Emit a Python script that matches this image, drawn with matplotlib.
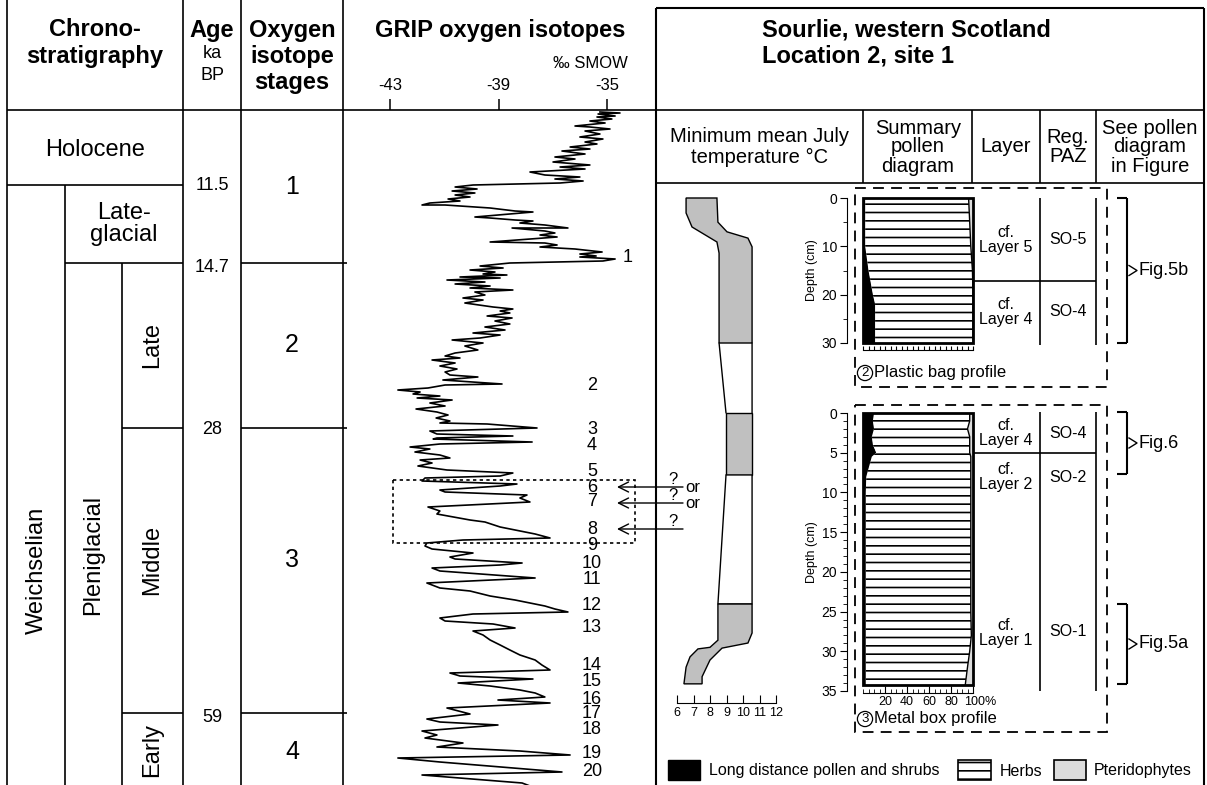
import matplotlib
matplotlib.use("Agg")
import matplotlib.pyplot as plt
from matplotlib.patches import Rectangle, ConnectionPatch
from matplotlib.ticker import MultipleLocator
from matplotlib.transforms import ScaledTranslation

plt.rcParams["font.family"] = ["Liberation Sans", "DejaVu Sans"]
plt.rcParams["hatch.linewidth"] = 1.2

# ---------------- data ----------------
# GRIP d18O (permil SMOW) against depth down the column (0 = top of panel)
grip_depth = [
    # Holocene
    2, 3, 4, 6, 7, 9, 11, 13, 16, 17, 19, 21, 24, 27, 29, 32, 34, 37, 39, 41,
    44, 47, 49, 52, 55, 57, 59, 62, 65, 67, 69, 71, 73, 75,
    # Younger Dryas
    77, 79, 81, 83, 85, 87, 89, 91, 93, 95, 95, 98,
    # Late-glacial interstadial
    101, 102, 104, 107, 108, 110, 111, 113, 115, 118, 118, 121, 123, 125, 127,
    132, 133, 135, 137, 139, 142, 144, 146, 147, 149, 151, 153,
    # stage 2
    156, 158, 160, 162, 164, 165, 167, 168, 170, 172, 174, 176, 178, 180, 182,
    185, 188, 190, 193, 197, 199, 201, 203, 206, 208, 211, 214, 217, 220, 223,
    225, 228, 230, 233, 236, 240, 243, 246, 248, 250, 253, 256, 259, 262, 265,
    267, 270, 274, 275, 278, 280, 282, 284, 286, 288, 290, 293, 296, 299, 302,
    305, 308, 311, 313, 314, 318, 321, 324, 326, 328, 329,
    # stage 3 (upper)
    332, 334, 337, 339, 342, 345, 348, 350, 353, 356, 360, 363, 366, 368, 371,
    374, 376, 380, 382, 385, 388, 392, 397, 401, 404, 410, 412, 417, 421, 424,
    428, 430, 433, 436, 439, 443, 447, 449, 453, 455, 458, 461, 468, 473, 478,
    481, 486, 490, 493, 496, 499, 502,
    # stage 3 (lower) and stage 4
    504, 508, 511, 514, 518, 521, 525, 530, 535, 540, 545, 550, 555, 560, 563,
    566, 569, 573, 576, 580, 583, 587, 590, 593, 598, 604, 609, 612, 615, 621,
    625, 628, 633, 637, 641, 645, 648, 652, 662, 665, 673, 676,
]
grip_d18o = [
    -35.26, -34.52, -35.33, -34.70, -35.37, -34.82, -35.63, -35.07, -36.18, -35.63,
    -34.89, -35.81, -35.26, -36.00, -35.15, -35.81, -35.37, -36.36, -35.63, -36.66,
    -35.81, -36.92, -36.18, -36.99, -35.63, -36.73, -35.81, -37.84, -37.29, -36.00,
    -36.92, -35.88, -36.73, -39.94,
    -40.60, -39.79, -40.71, -39.87, -40.60, -40.05, -40.86, -40.42, -41.53, -41.82,
    -40.97, -39.31,
    -38.39, -37.73, -38.58, -39.87, -39.31, -38.39, -37.73, -38.21, -37.29, -36.44,
    -38.50, -37.29, -36.92, -37.47, -36.84, -39.31, -37.29, -36.84, -37.47, -36.18,
    -35.18, -36.00, -35.40, -36.00, -34.70, -35.15, -38.58,
    -39.68, -38.83, -40.05, -39.13, -39.57, -38.69, -40.42, -38.94, -40.90, -39.50,
    -40.60, -39.31, -40.05, -38.47, -39.87, -39.50, -40.31, -39.57, -40.24, -39.20,
    -38.47, -38.94, -38.58, -39.42, -38.50, -39.13, -38.58, -39.50, -38.76, -39.94,
    -38.94, -39.68, -40.71, -39.57, -40.24, -39.76, -40.60, -40.97, -40.42, -41.45,
    -40.60, -41.16, -40.53, -40.97, -40.79, -39.76, -41.05, -38.87, -40.97, -41.60,
    -42.71, -41.89, -42.15, -41.16, -42.00, -40.71, -41.53, -40.97, -42.04, -41.27,
    -40.86, -41.30, -40.79, -41.16, -39.42, -37.58, -41.53, -41.27, -38.47, -41.27,
    -41.41,
    -37.76, -41.16, -42.26, -41.53, -42.08, -41.16, -40.79, -41.89, -41.45, -41.97,
    -40.90, -38.47, -38.94, -41.71, -41.82, -38.32, -38.94, -41.16, -40.97, -37.95,
    -38.21, -37.84, -41.60, -41.16, -41.27, -40.05, -39.50, -38.94, -38.21, -37.65,
    -37.10, -40.31, -41.64, -41.71, -41.45, -39.94, -40.79, -40.60, -38.13, -38.94,
    -41.45, -41.16, -37.65, -41.64, -41.16, -40.05, -39.31, -38.39, -37.84, -37.29,
    -36.92, -36.44,
    -39.94, -41.16, -40.97, -39.20, -38.39, -39.94, -39.57, -39.31, -38.94, -38.58,
    -38.21, -37.65, -37.40, -37.10, -40.79, -40.42, -37.73, -40.49, -39.31, -38.21,
    -37.65, -37.29, -39.02, -37.10, -40.90, -40.05, -41.64, -41.16, -39.02, -41.82,
    -41.27, -41.71, -40.31, -41.27, -38.21, -36.36, -42.71, -41.16, -36.66, -41.82,
    -38.13, -37.84,
]
grip_ticks = [-43, -39, -35]
is_labels = [str(i) for i in range(1, 21)]
is_rows = [258, 385, 430, 445, 472, 487, 502, 530, 545, 563, 580, 606, 628, 665,
           682, 699, 714, 730, 753, 772]

age_labels = ["11.5", "14.7", "28", "59"]
stage_labels = ["1", "2", "3", "4"]

# minimum mean July temperature (deg C) band, plastic bag profile (cm)
bag_t_low_depth = [0, 3.1, 6.0, 9.1, 11.4, 30]
bag_t_low = [6.55, 6.55, 6.91, 8.42, 8.55, 8.55]
bag_t_high_depth = [0, 5.0, 7.0, 8.3, 10.1, 30]
bag_t_high = [8.42, 8.48, 9.03, 10.30, 10.55, 10.55]
# metal box profile (cm)
box_t_top = [0, 7.8]            # upper reconstructed interval
box_t_top_range = [8.97, 10.55]
box_t_gap_low = [8.97, 8.48]     # no-data interval 7.8-24 cm
box_t_gap_depth = [7.8, 24.05]
box_t_low_depth = [24.05, 28.6, 29.5, 29.7, 30.7, 32.0, 34.1]
box_t_low = [8.48, 8.48, 8.00, 7.27, 6.79, 6.55, 6.42]
box_t_high_depth = [24.05, 27.7, 28.96, 29.6, 31.1, 33.2, 34.1]
box_t_high = [10.55, 10.55, 10.30, 8.73, 8.00, 7.52, 7.52]
temp_ticks = [6, 7, 8, 9, 10, 11, 12]

# summary pollen diagrams (cumulative %)
bag_depth = [0, 5, 10, 15, 20, 22, 25, 30]
bag_shrubs = [2, 2, 2, 5, 9, 11, 11, 11]
bag_herbs = [96, 97, 98, 99.5, 100, 100, 100, 100]
box_depth = [0, 1, 2, 3, 4, 5, 5.5, 6, 7, 8, 10, 15, 20, 25, 28, 30, 32, 34.2]
box_shrubs = [10, 9, 10, 8, 9, 12, 8, 7, 5, 3, 2.5, 2.5, 2.5, 2.5, 2.5, 2.5, 2.5, 2.5]
box_herbs = [97, 97, 95, 97, 97, 97, 98, 98, 98, 98, 98, 98, 98, 98, 98.5, 97, 95, 93]
pct_ticks = [20, 40, 60, 80, 100]

GRAY = "#c0c0c0"
PTER = "#dcdcdc"

# ---------------- figure ----------------
W, H = 1207, 785
fig = plt.figure(figsize=(W / 100, H / 100), dpi=100)
base = fig.add_axes([0, 0, 1, 1])
base.set_xlim(0, W)
base.set_ylim(H, 0)
base.axis("off")


def px_axes(x0, y0, x1, y1):
    a = fig.add_axes([x0 / W, 1 - y1 / H, (x1 - x0) / W, (y1 - y0) / H])
    a.patch.set_visible(False)
    return a


def hl(y, x0, x1, lw=1.2, **kw):
    base.plot([x0, x1], [y, y], color="k", lw=lw, solid_capstyle="butt", **kw)


def vl(x, y0, y1, lw=1.2, **kw):
    base.plot([x, x], [y0, y1], color="k", lw=lw, solid_capstyle="butt", **kw)


def txt(x, y, s, size=14, **kw):
    kw.setdefault("ha", "center")
    kw.setdefault("va", "center")
    base.text(x, y, s, fontsize=size, **kw)


# table frame
for x in [7, 183, 241, 343]:
    vl(x, 0, H)
vl(656, 8, H, lw=1.5)
vl(1204, 8, H, lw=1.5)
hl(110, 7, 1204)
hl(8, 656, 1204, lw=1.5)
hl(183, 656, 1204)
for x in [863, 972, 1040, 1096]:
    vl(x, 110, 183)
hl(185, 7, 183)
vl(65, 185, H)
vl(122, 263, H)
hl(263, 65, 183)
for y in [263, 428, 713]:
    hl(y, 241, 347)
for y in [428, 713]:
    hl(y, 122, 183)

# headers
txt(95, 30, "Chrono-", 17, weight="bold")
txt(95, 56, "stratigraphy", 17, weight="bold")
txt(212, 30, "Age", 17, weight="bold")
txt(212, 54, "ka", 13)
txt(212, 75, "BP", 13)
txt(292, 30, "Oxygen", 17, weight="bold")
txt(292, 56, "isotope", 17, weight="bold")
txt(292, 83, "stages", 17, weight="bold")
txt(500, 30, "GRIP oxygen isotopes", 17, weight="bold")
txt(590, 64, "‰ SMOW", 12)
txt(762, 30, "Sourlie, western Scotland", 17, weight="bold", ha="left")
txt(762, 56, "Location 2, site 1", 17, weight="bold", ha="left")

txt(760, 147, "Minimum mean July\ntemperature °C", 14.5, linespacing=1.15)
txt(918, 147, "Summary\npollen\ndiagram", 14.5, linespacing=1.0)
txt(1006, 147, "Layer", 14.5)
txt(1068, 147, "Reg.\nPAZ", 14.5, linespacing=1.0)
txt(1150, 147, "See pollen\ndiagram\nin Figure", 14.5, linespacing=1.0)

# chronostratigraphy
txt(95, 150, "Holocene", 17)
txt(124, 224, "Late-\nglacial", 17, linespacing=1.05)
txt(37, 570, "Weichselian", 17, rotation=90)
txt(93, 555, "Pleniglacial", 17, rotation=90)
txt(152, 345, "Late", 17, rotation=90)
txt(152, 560, "Middle", 17, rotation=90)
txt(152, 750, "Early", 17, rotation=90)
for s, y in zip(age_labels, [185, 268, 430, 717]):
    txt(212, y, s, 13)
for s, y in zip(stage_labels, [187, 345, 560, 752]):
    txt(292, y, s, 18)

# GRIP curve
g = px_axes(343, 110, 656, 785)
g.set_xlim(-43 - 47 / 27.125, -35 + 49 / 27.125)
g.set_ylim(675, 0)
g.plot(grip_d18o, grip_depth, color="k", lw=1.2)
for s in g.spines.values():
    s.set_visible(False)
g.xaxis.tick_top()
g.set_xticks(grip_ticks)
g.set_xticklabels([str(t) for t in grip_ticks])
g.tick_params(axis="x", direction="out", length=8, width=1.1, labelsize=12, pad=4)
g.set_yticks([])

for s, y in zip(is_labels, is_rows):
    txt(628 if s == "1" else 592, y, s, 13)

base.add_patch(Rectangle((393, 480), 242, 63, fill=False, ec="k", lw=1.2, ls=(0, (2, 2))))
for y in [487, 503, 529]:
    base.annotate("", xy=(617, y), xytext=(683, y),
                  arrowprops=dict(arrowstyle="->", lw=1.0, color="k", mutation_scale=18,
                                  shrinkA=0, shrinkB=0))
txt(673, 479, "?", 12)
txt(685, 487, "or", 12, ha="left")
txt(673, 496, "?", 12)
txt(685, 503, "or", 12, ha="left")
txt(673, 521, "?", 12)

# temperature band
tb = px_axes(677, 198, 776, 343)
tb.set_xlim(6, 12)
tb.set_ylim(30, 0)
tb.axis("off")
tb.fill(bag_t_low + bag_t_high[::-1], bag_t_low_depth + bag_t_high_depth[::-1],
        facecolor=GRAY, edgecolor="k", lw=1.0, clip_on=False)

tx = px_axes(677, 413, 776, 691)
tx.set_xlim(6, 12)
tx.set_ylim(35, 0)
for k in ["left", "right", "top"]:
    tx.spines[k].set_visible(False)
tx.spines["bottom"].set_position(("outward", 8.6))
tx.set_xticks(temp_ticks)
tx.tick_params(axis="x", direction="in", length=6, labelsize=9, pad=3)
tx.set_yticks([])
lo, hi = box_t_top_range
tx.fill([lo, hi, hi, lo], [box_t_top[0], box_t_top[0], box_t_top[1], box_t_top[1]],
        facecolor=GRAY, edgecolor="k", lw=1.0, clip_on=False)
tx.fill(box_t_gap_low + [hi, hi], box_t_gap_depth + box_t_gap_depth[::-1],
        facecolor="white", edgecolor="k", lw=1.0, clip_on=False)
tx.fill(box_t_low + box_t_high[::-1], box_t_low_depth + box_t_high_depth[::-1],
        facecolor=GRAY, edgecolor="k", lw=1.0, clip_on=False)
for xa, xb in [(bag_t_low[-1], box_t_top_range[0]), (bag_t_high[-1], box_t_top_range[1])]:
    fig.add_artist(ConnectionPatch(xyA=(xa, 30), coordsA="data", axesA=tb,
                                   xyB=(xb, 0), coordsB="data", axesB=tx,
                                   color="k", lw=1.0))


# pollen diagrams
def pollen(ax, depth, shrubs, herbs, dmax, bottom):
    ax.set_xlim(0, 100)
    ax.set_ylim(dmax, 0)
    ax.fill_betweenx(depth, 0, shrubs, color="k", lw=0)
    ax.fill_betweenx(depth, shrubs, herbs, facecolor="white", edgecolor="k", hatch="--", lw=0)
    ax.fill_betweenx(depth, herbs, 100, color=PTER, lw=0)
    ax.plot(herbs, depth, color="k", lw=1.0)
    ax.add_patch(Rectangle((0, 0), 100, bottom, fill=False, ec="k", lw=2.0, clip_on=False))
    for k in ["right", "top"]:
        ax.spines[k].set_visible(False)
    ax.spines["left"].set_position(("outward", 11.5))
    ax.set_ylabel("Depth (cm)", fontsize=9, labelpad=3)
    ax.tick_params(axis="y", which="major", direction="out", length=5, labelsize=10, pad=2)
    ax.tick_params(axis="y", which="minor", direction="out", length=3)
    ax.tick_params(axis="x", which="both", direction="in")


pb = px_axes(863, 198, 973, 343)
pollen(pb, bag_depth, bag_shrubs, bag_herbs, 30, 30)
pb.set_yticks([0, 10, 20, 30])
pb.yaxis.set_minor_locator(MultipleLocator(5))
pb.spines["bottom"].set_position(("outward", 5))
pb.set_xticks(range(0, 101, 5))
pb.set_xticklabels([])
pb.tick_params(axis="x", length=3)

pbx = px_axes(863, 413, 973, 691)
pollen(pbx, box_depth, box_shrubs, box_herbs, 35, box_depth[-1])
pbx.set_yticks(range(0, 36, 5))
pbx.yaxis.set_minor_locator(MultipleLocator(1))
pbx.spines["bottom"].set_position(("outward", 1.5))
pbx.set_xticks(pct_ticks)
pbx.set_xticklabels([str(t) for t in pct_ticks[:-1]] + ["100%"])
pbx.xaxis.set_minor_locator(MultipleLocator(5))
pbx.tick_params(axis="x", which="major", length=5, labelsize=9, pad=2)
pbx.tick_params(axis="x", which="minor", length=3)
# "100%" starts just left of its tick, as in the original
lab = pbx.get_xticklabels()[-1]
lab.set_horizontalalignment("left")
lab.set_transform(lab.get_transform() + ScaledTranslation(-0.09, 0, fig.dpi_scale_trans))

# layer / PAZ columns
for y0, y1 in [(198, 345), (412, 691)]:
    vl(1040, y0, y1)
    vl(1096, y0, y1)
hl(281, 973, 1096)
hl(453, 973, 1096)
txt(1006, 240, "cf.\nLayer 5", 11.5, linespacing=1.0)
txt(1068, 240, "SO-5", 11.5)
txt(1006, 312, "cf.\nLayer 4", 11.5, linespacing=1.0)
txt(1068, 312, "SO-4", 11.5)
txt(1006, 433, "cf.\nLayer 4", 11.5, linespacing=1.0)
txt(1068, 433, "SO-4", 11.5)
txt(1006, 477, "cf.\nLayer 2", 11.5, linespacing=1.0)
txt(1068, 478, "SO-2", 11.5)
txt(1006, 633, "cf.\nLayer 1", 11.5, linespacing=1.0)
txt(1068, 632, "SO-1", 11.5)

# dashed profile boxes
base.add_patch(Rectangle((855, 188), 252, 199, fill=False, ec="k", lw=1.3, ls=(0, (6, 4))))
base.add_patch(Rectangle((855, 405), 252, 327, fill=False, ec="k", lw=1.3, ls=(0, (6, 4))))
for n, y, s in [("2", 373, "Plastic bag profile"), ("3", 719, "Metal box profile")]:
    txt(865, y, n, 9.5, bbox=dict(boxstyle="circle,pad=0.12", fc="none", ec="k", lw=0.9))
    txt(874, y, s, 12, ha="left")

# figure brackets
for y0, y1, s in [(198, 343, "Fig.5b"), (412, 474, "Fig.6"), (604, 684, "Fig.5a")]:
    vl(1127, y0, y1, lw=1.5)
    hl(y0, 1117, 1127, lw=1.5)
    hl(y1, 1117, 1127, lw=1.5)
    ym = (y0 + y1) / 2
    base.plot([1129, 1137, 1129], [ym - 5, ym, ym + 5], color="k", lw=1.0)
    txt(1139, ym, s, 13, ha="left")

# legend
base.add_patch(Rectangle((668, 760), 32, 20, fc="k", ec="k"))
txt(709, 770, "Long distance pollen and shrubs", 11.5, ha="left")
base.add_patch(Rectangle((958, 760), 33, 20, fc="white", ec="k", hatch="--", lw=1.2))
txt(1000, 771, "Herbs", 11.5, ha="left")
base.add_patch(Rectangle((1054, 760), 32, 20, fc=PTER, ec="k", lw=1.2))
txt(1094, 770, "Pteridophytes", 11.5, ha="left")

fig.savefig("out.png", dpi=100)
